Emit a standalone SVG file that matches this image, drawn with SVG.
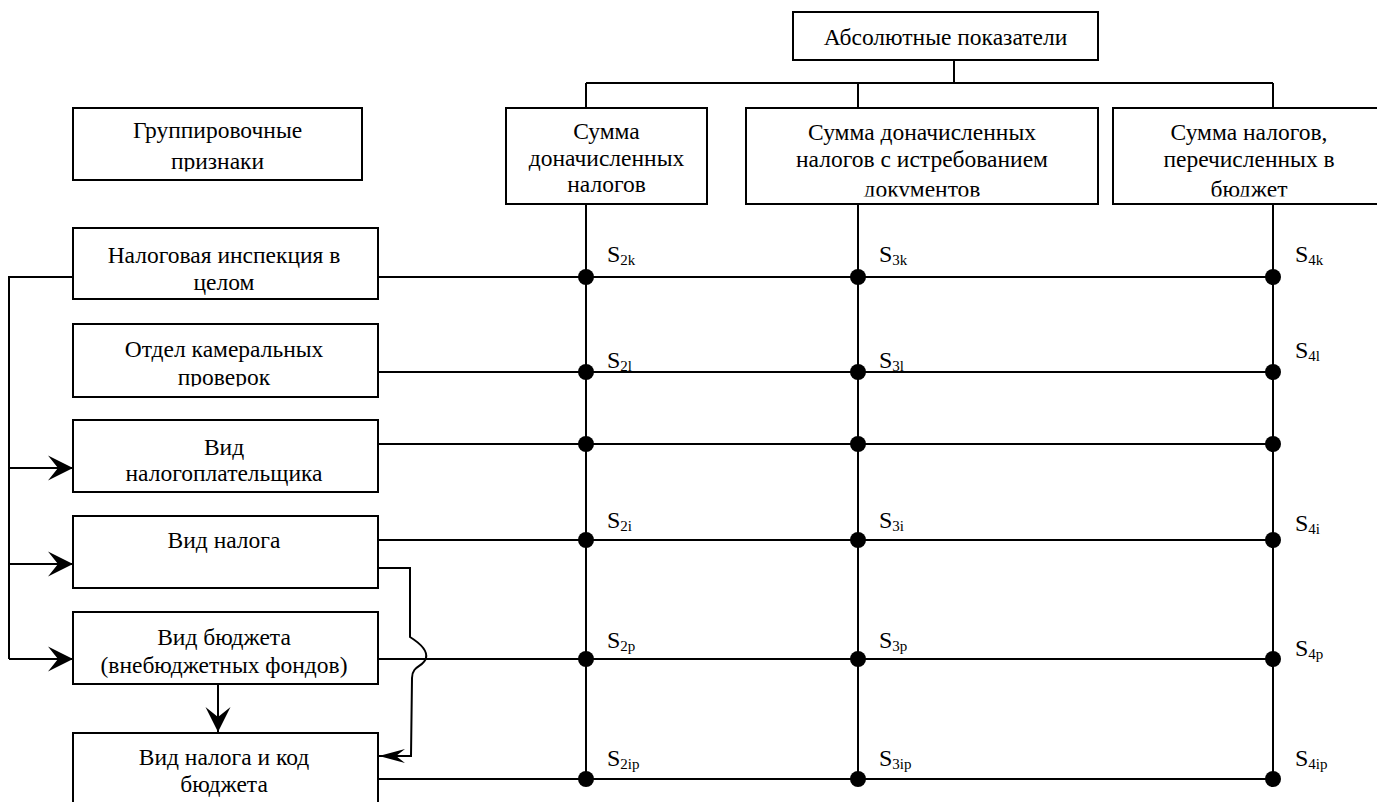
<svg xmlns="http://www.w3.org/2000/svg" width="1377" height="802" viewBox="0 0 1377 802">
<style>
.box{fill:#fff;stroke:#000;stroke-width:2}
.t{font-family:"Liberation Serif","Times New Roman",serif;font-size:23.5px;fill:#000;text-anchor:middle}
.ln{fill:none;stroke:#000;stroke-width:2}
.dot{fill:#000}
.s{font-family:"Liberation Serif","Times New Roman",serif;font-size:24px;fill:#000}
.sub{font-size:15px}
</style>
<defs>
<marker id="ah" markerUnits="userSpaceOnUse" markerWidth="26" markerHeight="26" viewBox="0 0 26 26" refX="25" refY="13" orient="auto"><path d="M0,0.5 L25,13 L0,25.5 L10,13 Z" fill="#000"/></marker>
<marker id="ah2" markerUnits="userSpaceOnUse" markerWidth="27" markerHeight="14" viewBox="0 0 27 14" refX="26" refY="7" orient="auto"><path d="M0,0 L26,7 L0,14 L9,7 Z" fill="#000"/></marker>
<clipPath id="cGr"><rect x="73" y="108" width="289" height="63.5"/></clipPath>
<clipPath id="cOt"><rect x="73" y="324" width="305" height="62.5"/></clipPath>
<clipPath id="cH2"><rect x="746" y="108" width="352" height="88.5"/></clipPath>
<clipPath id="cH3"><rect x="1113" y="108" width="264" height="88.5"/></clipPath>
</defs>

<g id="connectors">
<path class="ln" d="M954,60 V83 M586,83 H1273 M586,83 V108 M858,83 V108 M1273,83 V108"/>
<path class="ln" d="M586,204 V779 M858,204 V779 M1273,204 V779"/>
<path class="ln" d="M378,277 H1273 M378,372 H1273 M378,444 H1273 M378,540 H1273 M378,659 H1273 M378,779 H1273"/>
<path class="ln" d="M73,277 H9 V659"/>
<line class="ln" x1="9" y1="468" x2="73" y2="468" marker-end="url(#ah)"/>
<line class="ln" x1="9" y1="564" x2="73" y2="564" marker-end="url(#ah)"/>
<line class="ln" x1="9" y1="659" x2="73" y2="659" marker-end="url(#ah)"/>
<line class="ln" x1="218" y1="684" x2="218" y2="732" marker-end="url(#ah)"/>
<path class="ln" d="M378,568 H410 V637 C418,642 428,650 426,658 C424,667 412,665 412,678 L411,756 H379" marker-end="url(#ah2)"/>
<g class="dot">
<circle cx="586" cy="277" r="8"/><circle cx="858" cy="277" r="8"/><circle cx="1273" cy="277" r="8"/>
<circle cx="586" cy="372" r="8"/><circle cx="858" cy="372" r="8"/><circle cx="1273" cy="372" r="8"/>
<circle cx="586" cy="444" r="8"/><circle cx="858" cy="444" r="8"/><circle cx="1273" cy="444" r="8"/>
<circle cx="586" cy="540" r="8"/><circle cx="858" cy="540" r="8"/><circle cx="1273" cy="540" r="8"/>
<circle cx="586" cy="659" r="8"/><circle cx="858" cy="659" r="8"/><circle cx="1273" cy="659" r="8"/>
<circle cx="586" cy="779" r="8"/><circle cx="858" cy="779" r="8"/><circle cx="1273" cy="779" r="8"/>
</g>
</g>

<g id="labels">
<text class="s" x="607" y="262">S<tspan class="sub" dy="3">2k</tspan></text>
<text class="s" x="607" y="368">S<tspan class="sub" dy="3">2l</tspan></text>
<text class="s" x="607" y="528">S<tspan class="sub" dy="3">2i</tspan></text>
<text class="s" x="607" y="648">S<tspan class="sub" dy="3">2p</tspan></text>
<text class="s" x="607" y="766">S<tspan class="sub" dy="3">2ip</tspan></text>
<text class="s" x="879" y="262">S<tspan class="sub" dy="3">3k</tspan></text>
<text class="s" x="879" y="368">S<tspan class="sub" dy="3">3l</tspan></text>
<text class="s" x="879" y="528">S<tspan class="sub" dy="3">3i</tspan></text>
<text class="s" x="879" y="648">S<tspan class="sub" dy="3">3p</tspan></text>
<text class="s" x="879" y="766">S<tspan class="sub" dy="3">3ip</tspan></text>
<text class="s" x="1295" y="262">S<tspan class="sub" dy="3">4k</tspan></text>
<text class="s" x="1295" y="358">S<tspan class="sub" dy="3">4l</tspan></text>
<text class="s" x="1295" y="531">S<tspan class="sub" dy="3">4i</tspan></text>
<text class="s" x="1295" y="656">S<tspan class="sub" dy="3">4p</tspan></text>
<text class="s" x="1295" y="766">S<tspan class="sub" dy="3">4ip</tspan></text>
</g>

<g id="abs">
<rect class="box" x="793" y="12" width="305" height="48"/>
<text class="t" x="945.5" y="45">Абсолютные показатели</text>
</g>
<g id="h1">
<rect class="box" x="506" y="108" width="201" height="96"/>
<text class="t" x="606.5" y="139">Сумма</text>
<text class="t" x="606.5" y="166">доначисленных</text>
<text class="t" x="606.5" y="192">налогов</text>
</g>
<g id="h2">
<rect class="box" x="746" y="108" width="352" height="96"/>
<g clip-path="url(#cH2)">
<text class="t" x="922" y="140">Сумма доначисленных</text>
<text class="t" x="922" y="167">налогов с истребованием</text>
<text class="t" x="922" y="197">документов</text>
</g>
</g>
<g id="h3">
<rect class="box" x="1113" y="108" width="280" height="96"/>
<g clip-path="url(#cH3)">
<text class="t" x="1249" y="140">Сумма налогов,</text>
<text class="t" x="1249" y="167">перечисленных в</text>
<text class="t" x="1249" y="197">бюджет</text>
</g>
</g>

<g id="group">
<rect class="box" x="73" y="108" width="289" height="72"/>
<g clip-path="url(#cGr)">
<text class="t" x="217.5" y="138">Группировочные</text>
<text class="t" x="217.5" y="169">признаки</text>
</g>
</g>
<g id="n1">
<rect class="box" x="73" y="228" width="305" height="71"/>
<text class="t" x="224" y="263">Налоговая инспекция в</text>
<text class="t" x="224" y="290">целом</text>
</g>
<g id="n2">
<rect class="box" x="73" y="324" width="305" height="73"/>
<g clip-path="url(#cOt)">
<text class="t" x="224" y="357">Отдел камеральных</text>
<text class="t" x="224" y="385">проверок</text>
</g>
</g>
<g id="n3">
<rect class="box" x="73" y="420" width="305" height="72"/>
<text class="t" x="224" y="455">Вид</text>
<text class="t" x="224" y="481">налогоплательщика</text>
</g>
<g id="n4">
<rect class="box" x="73" y="516" width="305" height="72"/>
<text class="t" x="224" y="548">Вид налога</text>
</g>
<g id="n5">
<rect class="box" x="73" y="612" width="305" height="72"/>
<text class="t" x="224" y="645">Вид бюджета</text>
<text class="t" x="224" y="673">(внебюджетных фондов)</text>
</g>
<g id="n6">
<rect class="box" x="73" y="733" width="305" height="80"/>
<text class="t" x="224" y="765">Вид налога и код</text>
<text class="t" x="224" y="792">бюджета</text>
</g>
</svg>
